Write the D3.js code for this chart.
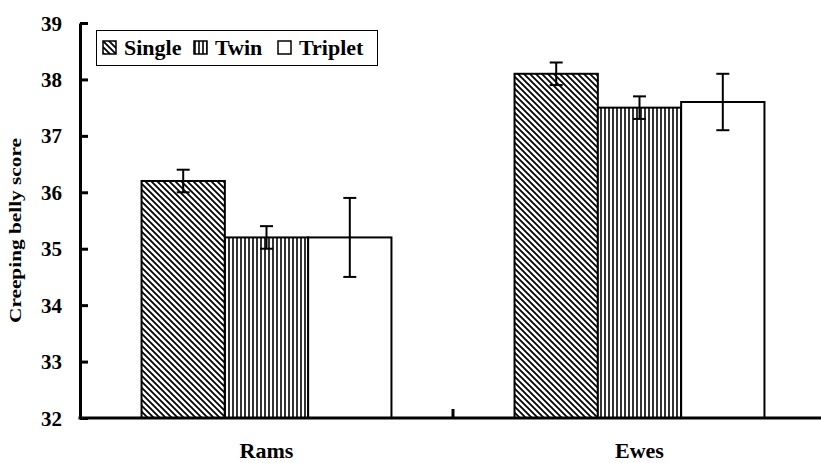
<!DOCTYPE html>
<html>
<head>
<meta charset="utf-8">
<script src="https://cdn.jsdelivr.net/npm/d3@7"></script>
<style>
  body { margin: 0; background: #fff; }
</style>
</head>
<body>
<script>
// chart data
const groups = ["Rams", "Ewes"];
const series = ["Single", "Twin", "Triplet"];
const means = [[36.2, 35.2, 35.2], [38.1, 37.5, 37.6]];
const errors = [[0.2, 0.2, 0.7], [0.2, 0.2, 0.5]];
const yTicks = [32, 33, 34, 35, 36, 37, 38, 39];

// canvas
const chart_width = 821, chart_height = 463;
const margin_left = 80, axis_bottom = 418, axis_top = 23;
const font = "Liberation Serif";

const svg = d3.select("body").append("svg")
    .attr("width", chart_width)
    .attr("height", chart_height);

// hatch patterns
const defs = svg.append("defs");
const diag = defs.append("pattern")
    .attr("id", "diag")
    .attr("patternUnits", "userSpaceOnUse")
    .attr("width", 6).attr("height", 6);
diag.append("rect").attr("width", 6).attr("height", 6).attr("fill", "#fff");
diag.append("path")
    .attr("d", "M0,0L6,6M-3,3L3,9M3,-3L9,3")
    .attr("stroke", "#000").attr("stroke-width", 1.8);

const vert = defs.append("pattern")
    .attr("id", "vert")
    .attr("patternUnits", "userSpaceOnUse")
    .attr("width", 4).attr("height", 4);
vert.append("rect").attr("width", 4).attr("height", 4).attr("fill", "#fff");
vert.append("path")
    .attr("d", "M1,0V4")
    .attr("stroke", "#000").attr("stroke-width", 1.6);

const fills = { Single: "url(#diag)", Twin: "url(#vert)", Triplet: "#fff" };

// scales
const x0 = d3.scaleBand()
    .domain(groups)
    .range([margin_left, 826])
    .paddingInner(0.33)
    .paddingOuter(0.165);

const x1 = d3.scaleBand()
    .domain(series)
    .range([0, x0.bandwidth()]);

const y = d3.scaleLinear()
    .domain([32, 39])
    .range([axis_bottom, axis_top]);

// bars
const rows = [];
groups.forEach((g, i) => {
    series.forEach((s, j) => {
        rows.push({ group: g, series: s, value: means[i][j], err: errors[i][j] });
    });
});

svg.append("g").selectAll("rect")
    .data(rows)
    .enter()
    .append("rect")
    .attr("x", d => x0(d.group) + x1(d.series))
    .attr("y", d => y(d.value))
    .attr("width", x1.bandwidth())
    .attr("height", d => y(32) - y(d.value))
    .attr("fill", d => fills[d.series])
    .attr("stroke", "#000")
    .attr("stroke-width", 2);

// error bars
const eb = svg.append("g").selectAll("g")
    .data(rows)
    .enter()
    .append("g")
    .attr("transform", d => `translate(${x0(d.group) + x1(d.series) + x1.bandwidth() / 2},0)`)
    .attr("stroke", "#000")
    .attr("stroke-width", 2);

eb.append("line")
    .attr("y1", d => y(d.value + d.err))
    .attr("y2", d => y(d.value - d.err));
eb.append("line")
    .attr("x1", -6.5).attr("x2", 6.5)
    .attr("y1", d => y(d.value + d.err))
    .attr("y2", d => y(d.value + d.err));
eb.append("line")
    .attr("x1", -6.5).attr("x2", 6.5)
    .attr("y1", d => y(d.value - d.err))
    .attr("y2", d => y(d.value - d.err));

// y axis
const yAxis = svg.append("g")
    .attr("transform", `translate(${margin_left},0)`)
    .call(d3.axisLeft(y)
        .tickValues(yTicks)
        .tickFormat(d3.format("d"))
        .tickSize(-8)
        .tickSizeOuter(0)
        .tickPadding(18));
yAxis.select(".domain").attr("stroke-width", 3);
yAxis.selectAll(".tick line").attr("stroke-width", 3);
yAxis.selectAll(".tick text")
    .style("font-size", "21px")
    .style("font-family", font)
    .style("font-weight", "bold")
    .attr("dy", "0.34em");

// x axis
svg.append("line")
    .attr("x1", margin_left - 1.5).attr("x2", chart_width)
    .attr("y1", y(32)).attr("y2", y(32))
    .attr("stroke", "#000").attr("stroke-width", 3);

// divider tick between categories
const mid = x0(groups[0]) + x0.step() - x0.step() * x0.paddingInner() / 2;
svg.append("line")
    .attr("x1", mid).attr("x2", mid)
    .attr("y1", y(32)).attr("y2", y(32) - 9)
    .attr("stroke", "#000").attr("stroke-width", 3);

svg.append("g").selectAll("text")
    .data(groups)
    .enter()
    .append("text")
    .attr("x", d => x0(d) + x0.bandwidth() / 2)
    .attr("y", 458)
    .attr("text-anchor", "middle")
    .style("font-family", font)
    .style("font-weight", "bold")
    .style("font-size", "22px")
    .text(d => d);

// y axis title
svg.append("text")
    .attr("transform", `translate(21,${(axis_top + axis_bottom) / 2 + 10}) rotate(-90)`)
    .attr("text-anchor", "middle")
    .attr("textLength", 185)
    .attr("lengthAdjust", "spacingAndGlyphs")
    .style("font-family", font)
    .style("font-weight", "bold")
    .style("font-size", "16px")
    .text("Creeping belly score");

// legend
const legend = svg.append("g");
legend.append("rect")
    .attr("x", 96.5).attr("y", 30.5)
    .attr("width", 281).attr("height", 35)
    .attr("fill", "#fff")
    .attr("stroke", "#000")
    .attr("stroke-width", 1);

const legendX = [103, 194, 278];
const items = legend.selectAll("g.item")
    .data(series)
    .enter()
    .append("g")
    .attr("class", "item")
    .attr("transform", (d, i) => `translate(${legendX[i]},41)`);

items.append("rect")
    .attr("width", 13).attr("height", 13)
    .attr("fill", d => fills[d])
    .attr("stroke", "#000")
    .attr("stroke-width", 1.5);

items.append("text")
    .attr("x", 21)
    .attr("y", 14)
    .style("font-family", font)
    .style("font-weight", "bold")
    .style("font-size", "22px")
    .text(d => d);
</script>
</body>
</html>
